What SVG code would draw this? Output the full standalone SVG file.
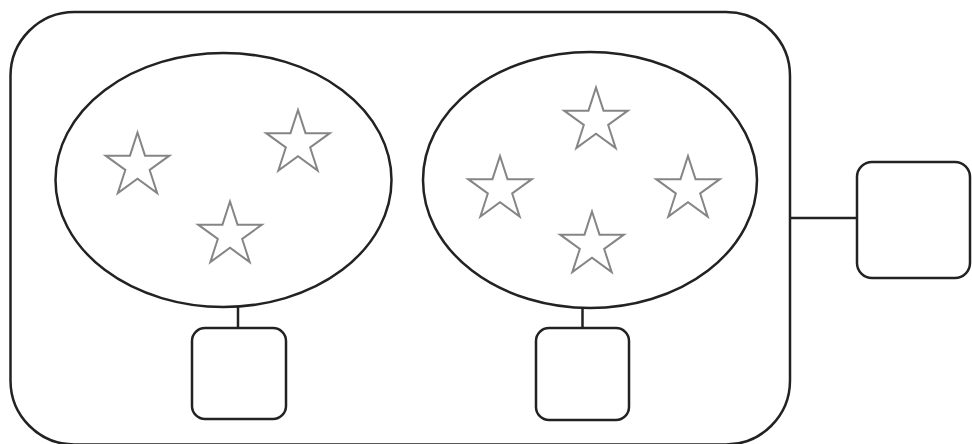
<svg xmlns="http://www.w3.org/2000/svg" xmlns:xlink="http://www.w3.org/1999/xlink" width="972" height="444" viewBox="0 0 972 444">
<style>
.shape{fill:#fff;stroke:#222;stroke-width:2.5}
.conn{fill:none;stroke:#222;stroke-width:2.5}
.star{fill:#fff;stroke:#858585;stroke-width:2;stroke-linejoin:miter}
</style>
<defs>
<path id="star" d="M0,-33.5 L7.52,-10.36 L31.86,-10.35 L12.17,3.96 L19.69,27.1 L0,12.8 L-19.69,27.1 L-12.17,3.96 L-31.86,-10.35 L-7.52,-10.36 Z"/>
</defs>
<rect width="972" height="444" fill="#fff"/>
<g id="container">
<rect class="shape" x="10.5" y="12" width="779.5" height="432.5" rx="64" ry="64"/>
</g>
<g id="connectors">
<line class="conn" x1="238" y1="307" x2="238" y2="328"/>
<line class="conn" x1="582.5" y1="308" x2="582.5" y2="328"/>
<line class="conn" x1="790" y1="218" x2="857" y2="218"/>
</g>
<g id="cluster-left">
<ellipse class="shape" cx="223.5" cy="180" rx="168" ry="127"/>
<use class="star" xlink:href="#star" href="#star" x="137.5" y="166"/>
<use class="star" xlink:href="#star" href="#star" x="298" y="143.5"/>
<use class="star" xlink:href="#star" href="#star" x="230" y="235"/>
</g>
<g id="cluster-right">
<ellipse class="shape" cx="590" cy="180" rx="167" ry="128"/>
<use class="star" xlink:href="#star" href="#star" x="596" y="121"/>
<use class="star" xlink:href="#star" href="#star" x="500" y="189.5"/>
<use class="star" xlink:href="#star" href="#star" x="688" y="189.5"/>
<use class="star" xlink:href="#star" href="#star" x="592" y="245"/>
</g>
<g id="box-left">
<rect class="shape" x="192" y="328" width="94" height="91" rx="13" ry="13"/>
</g>
<g id="box-middle">
<rect class="shape" x="536" y="328" width="93" height="92" rx="13" ry="13"/>
</g>
<g id="box-right">
<rect class="shape" x="857" y="162" width="113" height="116" rx="15" ry="15"/>
</g>
</svg>
